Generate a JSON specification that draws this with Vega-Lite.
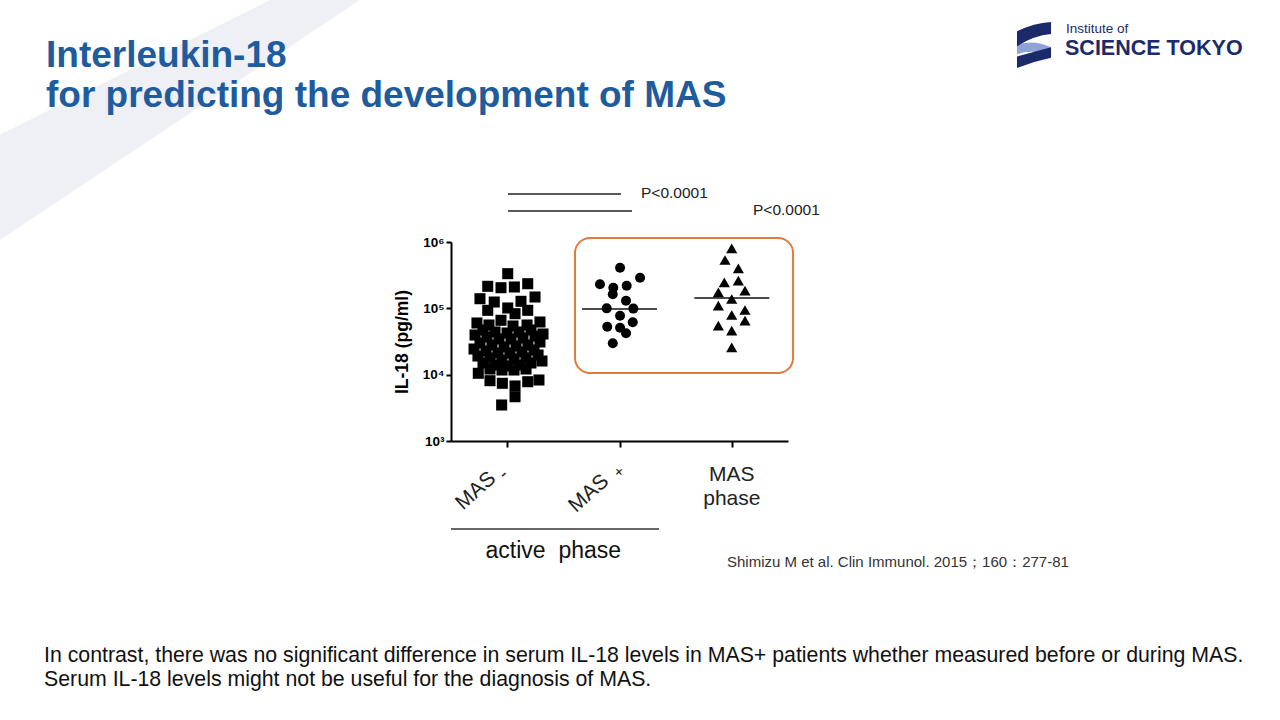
{
  "$schema": "https://vega.github.io/schema/vega-lite/v6.json",
  "width": 337,
  "height": 199,
  "autosize": "none",
  "padding": {"left": 451, "top": 242, "right": 492, "bottom": 279},
  "background": "white",
  "config": {"view": {"stroke": null}, "font": "Liberation Sans"},
  "data": {"values": [{}]},
  "datasets": {
    "points": [
      {"group": "MAS-", "x": 1.005, "il18": 333000},
      {"group": "MAS-", "x": 0.827, "il18": 214800},
      {"group": "MAS-", "x": 0.945, "il18": 204600},
      {"group": "MAS-", "x": 1.064, "il18": 209900},
      {"group": "MAS-", "x": 1.183, "il18": 235000},
      {"group": "MAS-", "x": 0.758, "il18": 139600},
      {"group": "MAS-", "x": 0.885, "il18": 124500},
      {"group": "MAS-", "x": 1.123, "il18": 127600},
      {"group": "MAS-", "x": 1.248, "il18": 148200},
      {"group": "MAS-", "x": 0.827, "il18": 93300},
      {"group": "MAS-", "x": 1.005, "il18": 101200},
      {"group": "MAS-", "x": 1.07, "il18": 83000},
      {"group": "MAS-", "x": 1.183, "il18": 93300},
      {"group": "MAS-", "x": 0.945, "il18": 66000},
      {"group": "MAS-", "x": 0.731, "il18": 60100},
      {"group": "MAS-", "x": 0.838, "il18": 56070},
      {"group": "MAS-", "x": 1.052, "il18": 54160},
      {"group": "MAS-", "x": 1.177, "il18": 56070},
      {"group": "MAS-", "x": 1.292, "il18": 62230},
      {"group": "MAS-", "x": 0.785, "il18": 47140},
      {"group": "MAS-", "x": 0.892, "il18": 43980},
      {"group": "MAS-", "x": 0.999, "il18": 42480},
      {"group": "MAS-", "x": 1.105, "il18": 43980},
      {"group": "MAS-", "x": 1.212, "il18": 47140},
      {"group": "MAS-", "x": 0.714, "il18": 39630},
      {"group": "MAS-", "x": 0.82, "il18": 36970},
      {"group": "MAS-", "x": 0.927, "il18": 34490},
      {"group": "MAS-", "x": 1.034, "il18": 34490},
      {"group": "MAS-", "x": 1.141, "il18": 35710},
      {"group": "MAS-", "x": 1.248, "il18": 38280},
      {"group": "MAS-", "x": 1.319, "il18": 41040},
      {"group": "MAS-", "x": 0.758, "il18": 30020},
      {"group": "MAS-", "x": 0.865, "il18": 28010},
      {"group": "MAS-", "x": 0.972, "il18": 26130},
      {"group": "MAS-", "x": 1.079, "il18": 27050},
      {"group": "MAS-", "x": 1.185, "il18": 28010},
      {"group": "MAS-", "x": 1.292, "il18": 31080},
      {"group": "MAS-", "x": 0.705, "il18": 24370},
      {"group": "MAS-", "x": 0.812, "il18": 22740},
      {"group": "MAS-", "x": 0.918, "il18": 21210},
      {"group": "MAS-", "x": 1.025, "il18": 21210},
      {"group": "MAS-", "x": 1.132, "il18": 21960},
      {"group": "MAS-", "x": 1.239, "il18": 23540},
      {"group": "MAS-", "x": 0.74, "il18": 19110},
      {"group": "MAS-", "x": 0.847, "il18": 17840},
      {"group": "MAS-", "x": 0.954, "il18": 16640},
      {"group": "MAS-", "x": 1.061, "il18": 17230},
      {"group": "MAS-", "x": 1.168, "il18": 17840},
      {"group": "MAS-", "x": 1.275, "il18": 19790},
      {"group": "MAS-", "x": 0.785, "il18": 14990},
      {"group": "MAS-", "x": 0.892, "il18": 13990},
      {"group": "MAS-", "x": 0.999, "il18": 13510},
      {"group": "MAS-", "x": 1.105, "il18": 13990},
      {"group": "MAS-", "x": 1.212, "il18": 14990},
      {"group": "MAS-", "x": 1.31, "il18": 16070},
      {"group": "MAS-", "x": 0.847, "il18": 12170},
      {"group": "MAS-", "x": 0.954, "il18": 11760},
      {"group": "MAS-", "x": 1.061, "il18": 11760},
      {"group": "MAS-", "x": 1.168, "il18": 12170},
      {"group": "MAS-", "x": 0.743, "il18": 10490},
      {"group": "MAS-", "x": 0.847, "il18": 8110},
      {"group": "MAS-", "x": 0.957, "il18": 7410},
      {"group": "MAS-", "x": 1.07, "il18": 6750},
      {"group": "MAS-", "x": 1.183, "il18": 7830},
      {"group": "MAS-", "x": 1.283, "il18": 8310},
      {"group": "MAS-", "x": 1.07, "il18": 4650},
      {"group": "MAS-", "x": 0.951, "il18": 3490},
      {"group": "MAS+", "x": 2.005, "il18": 409900},
      {"group": "MAS+", "x": 1.826, "il18": 230300},
      {"group": "MAS+", "x": 2.183, "il18": 289600},
      {"group": "MAS+", "x": 1.945, "il18": 204600},
      {"group": "MAS+", "x": 2.064, "il18": 219400},
      {"group": "MAS+", "x": 1.94, "il18": 162800},
      {"group": "MAS+", "x": 2.058, "il18": 130300},
      {"group": "MAS+", "x": 1.886, "il18": 99900},
      {"group": "MAS+", "x": 2.123, "il18": 99000},
      {"group": "MAS+", "x": 2.005, "il18": 77400},
      {"group": "MAS+", "x": 2.118, "il18": 61550},
      {"group": "MAS+", "x": 1.891, "il18": 52840},
      {"group": "MAS+", "x": 2.005, "il18": 51050},
      {"group": "MAS+", "x": 2.058, "il18": 42030},
      {"group": "MAS+", "x": 1.94, "il18": 29700},
      {"group": "MAS phase", "x": 2.999, "il18": 803500},
      {"group": "MAS phase", "x": 2.939, "il18": 535400},
      {"group": "MAS phase", "x": 3.058, "il18": 401400},
      {"group": "MAS phase", "x": 2.933, "il18": 246900},
      {"group": "MAS phase", "x": 3.058, "il18": 261000},
      {"group": "MAS phase", "x": 2.88, "il18": 174400},
      {"group": "MAS phase", "x": 3.117, "il18": 184400},
      {"group": "MAS phase", "x": 2.999, "il18": 138300},
      {"group": "MAS phase", "x": 2.88, "il18": 109600},
      {"group": "MAS phase", "x": 3.117, "il18": 94400},
      {"group": "MAS phase", "x": 2.999, "il18": 79300},
      {"group": "MAS phase", "x": 3.117, "il18": 65100},
      {"group": "MAS phase", "x": 2.88, "il18": 54700},
      {"group": "MAS phase", "x": 2.999, "il18": 46000},
      {"group": "MAS phase", "x": 2.999, "il18": 25850}
    ],
    "medians": [
      {"group": "MAS+", "x": 2, "il18": 97700},
      {"group": "MAS phase", "x": 3, "il18": 143000}
    ]
  },
  "layer": [
    {
      "mark": {"type": "point", "filled": true, "opacity": 1, "strokeWidth": 0, "size": 1638400, "color": "#EEF0F6", "shape": "M-1,-0.3516 L-0.578,-0.5625 L-0.4375,-0.5625 L-1,-0.1875 Z"},
      "encoding": {"x": {"datum": 2.1805}, "y": {"datum": 16640}}
    },
    {
      "data": {"name": "points"},
      "transform": [{"filter": "datum.group === 'MAS-'"}],
      "mark": {"type": "point", "shape": "square", "filled": true, "opacity": 1, "color": "black", "size": 122, "strokeWidth": 0},
      "encoding": {
        "x": {
          "field": "x", "type": "quantitative",
          "scale": {"domain": [0.5, 3.5], "nice": false, "zero": false},
          "axis": {"values": [1, 2, 3], "labels": false, "title": null, "grid": false, "domainColor": "black", "domainWidth": 2, "tickColor": "black", "tickWidth": 2, "tickSize": 6}
        },
        "y": {
          "field": "il18", "type": "quantitative",
          "scale": {"type": "log", "domain": [1000, 1000000], "nice": false},
          "axis": {
            "values": [1000, 10000, 100000, 1000000],
            "labelExpr": "datum.value >= 999999 ? '10⁶' : datum.value >= 99999 ? '10⁵' : datum.value >= 9999 ? '10⁴' : '10³'",
            "title": "IL-18 (pg/ml)", "titleFontSize": 17.5, "titleFontWeight": "bold", "titleColor": "black", "titlePadding": 11, "titleFont": "Liberation Sans",
            "labelFontSize": 13.5, "labelFontWeight": "bold", "labelColor": "black", "labelPadding": 2, "labelFont": "Liberation Sans",
            "grid": false, "domainColor": "black", "domainWidth": 2, "tickColor": "black", "tickWidth": 2, "tickSize": 5
          }
        }
      }
    },
    {
      "data": {"name": "points"},
      "transform": [{"filter": "datum.group === 'MAS+'"}],
      "mark": {"type": "point", "shape": "circle", "filled": true, "opacity": 1, "color": "black", "size": 100, "strokeWidth": 0},
      "encoding": {
        "x": {"field": "x", "type": "quantitative"},
        "y": {"field": "il18", "type": "quantitative"}
      }
    },
    {
      "data": {"name": "points"},
      "transform": [{"filter": "datum.group === 'MAS phase'"}],
      "mark": {"type": "point", "shape": "triangle-up", "filled": true, "opacity": 1, "color": "black", "size": 125, "strokeWidth": 0},
      "encoding": {
        "x": {"field": "x", "type": "quantitative"},
        "y": {"field": "il18", "type": "quantitative"}
      }
    },
    {
      "data": {"name": "medians"},
      "mark": {"type": "tick", "orient": "horizontal", "size": 75, "thickness": 2, "color": "black"},
      "encoding": {
        "x": {"field": "x", "type": "quantitative"},
        "y": {"field": "il18", "type": "quantitative"}
      }
    },
    {
      "mark": {"type": "rect", "fillOpacity": 0, "stroke": "#E07B3A", "strokeWidth": 2, "cornerRadius": 15},
      "encoding": {
        "x": {"datum": 1.604}, "x2": {"datum": 3.545},
        "y": {"datum": 1149000}, "y2": {"datum": 10596}
      }
    },
    {
      "mark": {"type": "rule", "color": "#222", "strokeWidth": 1.5},
      "encoding": {"x": {"datum": 1.0074}, "x2": {"datum": 2.0134}, "y": {"datum": 5291000}}
    },
    {
      "mark": {"type": "rule", "color": "#222", "strokeWidth": 1.5},
      "encoding": {"x": {"datum": 1.0074}, "x2": {"datum": 2.1113}, "y": {"datum": 2934000}}
    },
    {
      "mark": {"type": "text", "align": "left", "baseline": "middle", "fontSize": 15.5, "color": "#222"},
      "encoding": {"x": {"datum": 2.1914}, "y": {"datum": 5479000}, "text": {"value": "P<0.0001"}}
    },
    {
      "mark": {"type": "text", "align": "left", "baseline": "middle", "fontSize": 15.5, "color": "#222"},
      "encoding": {"x": {"datum": 3.1884}, "y": {"datum": 3037000}, "text": {"value": "P<0.0001"}}
    },
    {
      "mark": {"type": "text", "align": "left", "baseline": "alphabetic", "fontSize": 21, "angle": -42, "color": "#222"},
      "encoding": {"x": {"datum": 0.6068}, "y": {"datum": 89.2}, "text": {"value": "MAS"}}
    },
    {
      "mark": {"type": "text", "align": "center", "baseline": "middle", "fontSize": 19, "angle": -42, "color": "#222"},
      "encoding": {"x": {"datum": 0.9629}, "y": {"datum": 320}, "text": {"value": "-"}}
    },
    {
      "mark": {"type": "text", "align": "left", "baseline": "alphabetic", "fontSize": 21, "angle": -42, "color": "#222"},
      "encoding": {"x": {"datum": 1.6128}, "y": {"datum": 81.4}, "text": {"value": "MAS"}}
    },
    {
      "mark": {"type": "text", "align": "center", "baseline": "middle", "fontSize": 15, "angle": -42, "color": "#222"},
      "encoding": {"x": {"datum": 1.9956}, "y": {"datum": 342}, "text": {"value": "+"}}
    },
    {
      "mark": {"type": "text", "align": "center", "baseline": "alphabetic", "fontSize": 21, "lineHeight": 24, "color": "#222"},
      "encoding": {"x": {"datum": 3}, "y": {"datum": 249.4}, "text": {"value": ["MAS", "phase"]}}
    },
    {
      "mark": {"type": "rule", "color": "#333", "strokeWidth": 1.5},
      "encoding": {"x": {"datum": 0.5}, "x2": {"datum": 2.3516}, "y": {"datum": 47.14}}
    },
    {
      "mark": {"type": "text", "align": "center", "baseline": "alphabetic", "fontSize": 23, "color": "#111"},
      "encoding": {"x": {"datum": 1.4107}, "y": {"datum": 17.22}, "text": {"value": "active\u00a0\u00a0phase"}}
    },
    {
      "mark": {"type": "text", "align": "left", "baseline": "alphabetic", "fontSize": 15, "color": "#333"},
      "encoding": {"x": {"datum": 2.957}, "y": {"datum": 12.6}, "text": {"value": "Shimizu M et al. Clin Immunol. 2015；160：277-81"}}
    },
    {
      "mark": {"type": "text", "align": "left", "baseline": "alphabetic", "fontSize": 21.3, "lineHeight": 24, "color": "#111"},
      "encoding": {"x": {"datum": -3.1232}, "y": {"datum": 0.4659}, "text": {"value": ["In contrast, there was no significant difference in serum IL-18 levels in MAS+ patients whether measured before or during MAS.", "Serum IL-18 levels might not be useful for the diagnosis of MAS."]}}
    },
    {
      "mark": {"type": "text", "align": "left", "baseline": "alphabetic", "fontSize": 37, "fontWeight": "bold", "lineHeight": 40, "color": "#1F5C9E"},
      "encoding": {"x": {"datum": -3.1053}, "y": {"datum": 434700000}, "text": {"value": ["Interleukin-18", "for predicting the development of MAS"]}}
    },
    {
      "mark": {"type": "text", "align": "left", "baseline": "alphabetic", "fontSize": 13.5, "color": "#1B2A6B"},
      "encoding": {"x": {"datum": 5.975}, "y": {"datum": 1415000000}, "text": {"value": "Institute of"}}
    },
    {
      "mark": {"type": "text", "align": "left", "baseline": "alphabetic", "fontSize": 21.5, "fontWeight": "bold", "color": "#1B2A6B"},
      "encoding": {"x": {"datum": 5.966}, "y": {"datum": 659400000}, "text": {"value": "SCIENCE TOKYO"}}
    },
    {
      "mark": {"type": "point", "filled": true, "opacity": 1, "strokeWidth": 0, "size": 2116, "color": "#8FA3D6", "shape": "M-0.74,0.0 Q0,-0.25 0.74,0.1 L0.74,0.5 Q0,0.15 -0.74,0.4 Z"},
      "encoding": {"x": {"datum": 5.69}, "y": {"datum": 932800000}}
    },
    {
      "mark": {"type": "point", "filled": true, "opacity": 1, "strokeWidth": 0, "size": 2116, "color": "#1B2A6B", "shape": "M-0.74,-0.6 Q0,-0.95 0.74,-1 L0.74,-0.48 Q0,-0.42 -0.74,0.05 Z"},
      "encoding": {"x": {"datum": 5.69}, "y": {"datum": 932800000}}
    },
    {
      "mark": {"type": "point", "filled": true, "opacity": 1, "strokeWidth": 0, "size": 2116, "color": "#1B2A6B", "shape": "M0.74,0.1 L0.74,0.55 Q0,0.7 -0.74,1 L-0.74,0.5 Q0,0.3 0.74,0.1 Z"},
      "encoding": {"x": {"datum": 5.69}, "y": {"datum": 932800000}}
    }
  ]
}
